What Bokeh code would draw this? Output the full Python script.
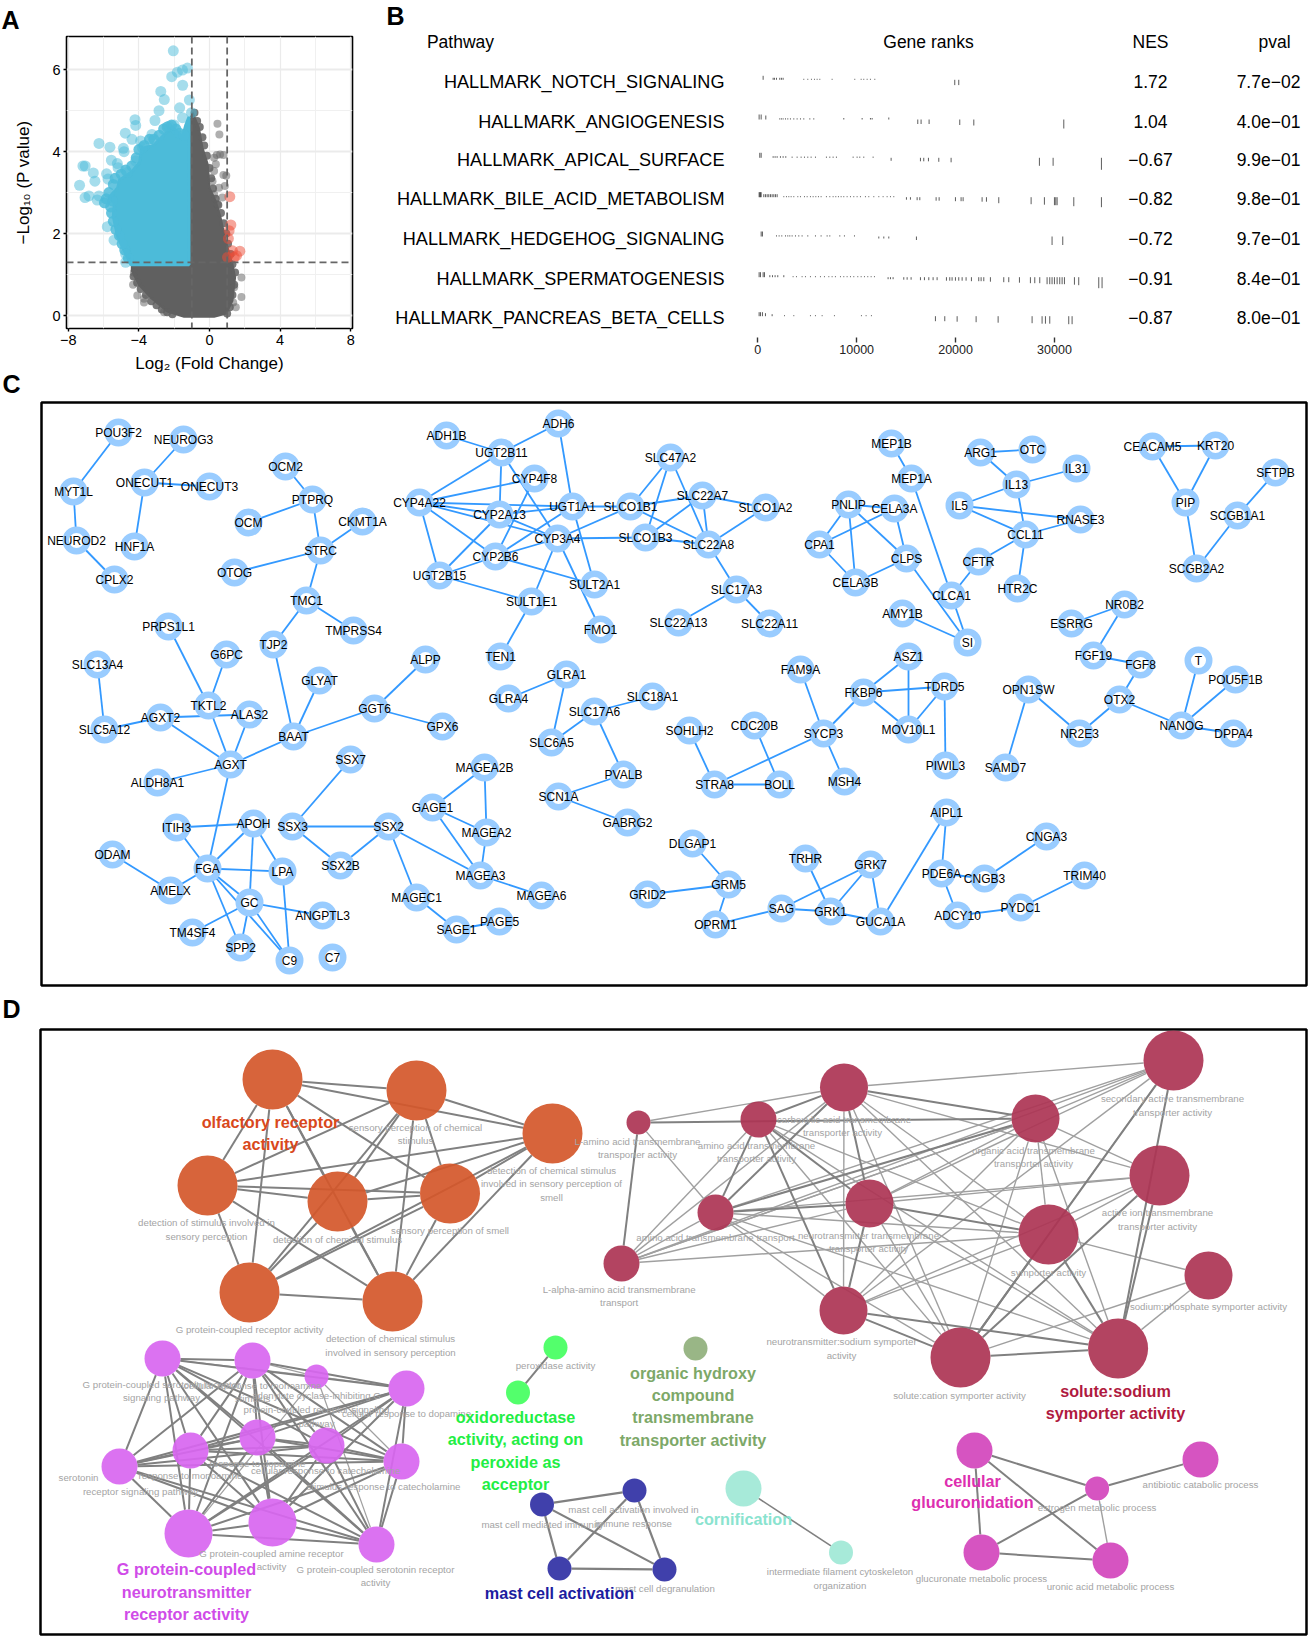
from math import hypot
from bokeh.plotting import figure
from bokeh.layouts import column, row
from bokeh.models import (Range1d, LinearAxis, FixedTicker, Label, Span, Title, BasicTickFormatter)
from bokeh.core.properties import value
from bokeh.embed import file_html
from bokeh.resources import INLINE

FONT = "Liberation Sans"

# ---------------- Panel A: volcano ----------------
blue_x = [-2.05,-1.25,-1.53,-1.82,-2.14,-1.52,-2.76,-2.56,-1.14,-2.86,-1.69,-1.02,-3.09,-4.22,-4.18,-1.53,-4.77,-4.39,-3.26,-3.90,
          -6.26,-5.64,-4.88,-4.84,-5.56,-5.22,-5.18,-7.04,-7.17,-6.58,-6.49,-7.36,-5.83,-5.75,-7.05,-6.83,-6.26,-6.36,-5.79,-5.41,
          -4.75,-4.75,-2.29,-2.0,-4.65,-4.18,-3.80]
blue_y = [6.46,6.04,5.99,5.94,5.83,5.62,5.47,5.27,5.26,5.00,5.07,4.95,4.76,4.78,4.64,4.83,4.45,4.30,4.42,4.26,
          4.20,4.11,4.08,4.00,3.79,3.71,3.61,3.65,3.65,3.48,3.28,3.18,3.46,3.33,2.88,2.92,2.92,2.82,2.17,1.84,
          1.50,1.30,4.62,4.65,3.49,3.77,4.10]
blue_edge_x = [-4.6,-4.8,-4.95,-5.1,-5.3,-5.45,-5.55,-5.6,-5.5,-5.85,-5.95,-5.7,-5.45,-5.35,-5.0,-4.75,-4.4,-4.15,-4.0,-3.7,-3.4,-3.15,-2.85,-2.6,-2.4,-2.15,-1.9,-1.7,-1.45]
blue_edge_y = [1.4,1.6,1.75,1.95,2.1,2.3,2.5,2.65,2.8,2.85,2.75,3.0,3.2,3.35,3.45,3.55,3.65,3.85,4.05,4.15,4.3,4.3,4.4,4.55,4.6,4.65,4.55,4.45,4.4]
blue_mass_x = [-1.16,-4.45,-4.85,-5.2,-5.45,-5.4,-5.7,-5.2,-5.1,-4.4,-3.95,-3.85,-3.15,-2.5,-2.10,-1.53,-1.35,-1.16]
blue_mass_y = [1.24,1.24,1.60,1.92,2.41,2.74,2.88,3.12,3.31,3.51,3.75,4.08,4.16,4.44,4.60,4.36,4.64,4.85]
grey_x = [0.45,0.56,0.41,0.60,0.79,0.26,0.36,0.26,0.79,0.95,0.17,0.54,0.87,0.26,0.73,0.45,-4.28,-4.33,-4.09,-3.71,-3.71,1.81,1.81,1.49,1.34,1.40,-2.57]
grey_y = [4.68,4.42,3.92,3.93,3.92,3.85,3.69,3.53,3.43,3.41,3.28,3.12,3.16,2.96,2.88,2.72,1.05,0.75,0.49,0.41,0.32,0.93,0.45,0.20,0.32,0.69,0.08]
grey_edge_x = [-4.3,-4.1,-3.9,-3.6,-3.3,-3.0,-2.7,-2.4,-2.1,1.0,1.15,1.3,1.4,1.45,1.3,1.2,1.05,0.95,0.8,0.65,0.5,0.35,0.2,0.1,0.0,-0.15,-0.3,-0.4,-0.55,-0.7,-0.85]
grey_edge_y = [0.95,0.8,0.65,0.5,0.35,0.25,0.15,0.08,0.03,0.05,0.2,0.5,0.75,1.05,1.25,1.5,1.75,2.0,2.25,2.5,2.7,2.85,3.1,3.35,3.6,3.9,4.15,4.35,4.6,4.75,4.95]
grey_mass_x = [-4.4,-4.0,-3.3,-2.39,-1.44,0.26,0.95,1.30,1.45,1.30,0.92,0.63,0.35,0.0,-0.1,-0.4,-0.6,-0.95,-1.16,-1.16,-4.4]
grey_mass_y = [1.09,0.75,0.42,0.10,-0.03,-0.03,0.05,0.36,0.93,1.26,1.82,2.39,2.80,3.12,3.69,4.10,4.58,4.95,4.74,1.22,1.22]
red_x = [1.15,1.21,1.11,1.07,1.72,1.30,1.02,1.40,1.53]
red_y = [2.90,2.21,2.07,1.88,1.57,1.58,1.42,1.42,1.46]

# ---------------- Panel B: gene ranks table ----------------
pathways = ["HALLMARK_NOTCH_SIGNALING","HALLMARK_ANGIOGENESIS","HALLMARK_APICAL_SURFACE","HALLMARK_BILE_ACID_METABOLISM",
            "HALLMARK_HEDGEHOG_SIGNALING","HALLMARK_SPERMATOGENESIS","HALLMARK_PANCREAS_BETA_CELLS"]
nes = ["1.72","1.04","\u22120.67","\u22120.82","\u22120.72","\u22120.91","\u22120.87"]
pval = ["7.7e\u221202","4.0e\u221201","9.9e\u221201","9.8e\u221201","9.7e\u221201","8.4e\u221201","8.0e\u221201"]
row_text_y = [81,121,159,198,238,278,317]
row_base_y = [79.3,119,157.3,196.7,236,276.7,315.7]
row1 = [([540],4),([1550,1685,1890,2220,2390,2560],2),([4650,5055,5425,5730,6000,6270,7515,9805,10450,10715,11055,11390,11830],1),([19915,20320],-5.3)]
row2 = [([135,340],5),([810],4),([2220,2390,2560,2800,3030,3300,3640,3975,4315,4650,5260,5660],1.2),([8695,10550,11390,11560],1.5),([13245],2),
        ([16175,16510,17320],-4.5),([20420],-5.5),([21840],-6),([30940],-9)]
row3 = [([200,340],5),([1550,1750,1955,2290,2560,2830],1.6),([3470,3975,4380,4720,5055,5390,5830,6940,7280,7615,7950,9640,10040,10310,10715,11660],1.2),
        ([13480],-3),([16445,16780,17255],-3.5),([18300],-4),([19545],-4.5),([28475,29860],-8),([34745],-12)]
row4 = [([135,200,270,340],5),([605,775,945,1110,1280,1450,1620,1785,1955],3),
        ([2630,2900,3135,3370,3640,4045,4315,4720,4990,5325,5595,5865,6135,6400,6940,7280,7615,7885,8155,8425,8695,9030,9370,9705,10040,10380,10885,11220,11730,12235,12670,13075,13415,13750],1),
        ([15030,15435],-2.5),([16110,16380],-3),([18030,18335],-3.5),([19985,20555,20760],-4),([22680,23120],-4.5),([24365],-6),([27635],-7),([28980],-7.5),
        ([29995,30130,30265],-8),([31950],-9),([34745],-10)]
row5 = [([340,470],5),([1890,2155,2425,2800,3030,3235,3470,3810,4145,4480,5055,5830,6400,7010,7280,8290,8760,9775],1.2),([12235,12740,13245],-2),([16040],-3.5),([29755,30835],-8.5)]
row6 = [([135,270,540,675],5),([1215,1485,1750,2020,2630],2),
        ([3570,3910,4480,4820,5325,5830,6335,6740,7180,7515,7850,8360,8695,9030,9370,9705,10110,10450,10785,11120,11460,11795],1),
        ([13175,13415,13680],-2),([14760,15100,15500],-2.5),([16445,16850,17290,17725,18130],-3),([19075,19410,19645,19985,20320,20660,21060],-3.5),
        ([21600,22340,22580,22850],-4),([23520],-4.5),([24870,25375],-5),([26455],-5.5),([27565,28005,28510],-6),
        ([29250,29520,29755,29995,30265,30530,30770,31005],-7),([32015],-7.5),([32450],-8),([34475,34810],-11)]
row7 = [([135,270,470],4),([775],3),([1450],2),([2700,3640,5325,5830,6505,7750,10480,10950,11490],1),
        ([17960,18905],-5),([20155],-5.5),([22075],-6),([24300],-6.5),([27735],-7),([28745,29085,29520],-7.5),([31440,31780],-8)]
rows = [row1,row2,row3,row4,row5,row6,row7]
rank_ticks = [0,10000,20000,30000]

# ---------------- Panel C: gene network ----------------
genes = ["POU3F2","NEUROG3","MYT1L","ONECUT1","ONECUT3","NEUROD2","HNF1A","CPLX2","OCM2","PTPRQ","OCM","CKMT1A","STRC","OTOG","TMC1","TMPRSS4","TJP2","PRPS1L1","G6PC","SLC13A4",
 "ALPP","TEN1","ADH1B","ADH6","UGT2B11","CYP4F8","CYP4A22","CYP2A13","UGT1A1","SLCO1B1","CYP3A4","SLCO1B3","CYP2B6","UGT2B15","SULT2A1","SULT1E1","FMO1",
 "SLC47A2","SLC22A7","SLCO1A2","SLC22A8","SLC17A3","SLC22A13","SLC22A11","MEP1B","MEP1A","PNLIP","CELA3A","CPA1","CLPS","CELA3B","ARG1","OTC","IL13","IL31","IL5","RNASE3","CCL11","CFTR","HTR2C","CLCA1","AMY1B","SI",
 "CEACAM5","KRT20","PIP","SCGB1A1","SCGB2A2","SFTPB","NR0B2","ESRRG","FGF19","FGF8","T","ASZ1",
 "SLC5A12","AGXT2","TKTL2","ALAS2","GLYAT","GGT6","GPX6","BAAT","AGXT","ALDH8A1","SSX7","MAGEA2B","GAGE1","MAGEA2","MAGEA3","MAGEA6","SSX2","SSX3","SSX2B","APOH","ITIH3","FGA","LPA","ODAM","AMELX","GC","ANGPTL3","TM4SF4","SPP2","MAGEC1","SAGE1","PAGE5",
 "GLRA1","GLRA4","SLC17A6","SLC6A5","PVALB","SCN1A","GABRG2","C9","C7",
 "SLC18A1","SOHLH2","CDC20B","FAM9A","SYCP3","FKBP6","TDRD5","MOV10L1","MSH4","PIWIL3","OPN1SW","SAMD7","NR2E3","OTX2","NANOG","DPPA4","POU5F1B","STRA8","BOLL","AIPL1","CNGA3","TRIM40","PDE6A","CNGB3","ADCY10","PYDC1","GRK7","TRHR","SAG","GRK1","GUCA1A","OPRM1","GRM5","GRID2","DLGAP1"]
gene_x = [118,183,73,144,209,76,134,114,285,312,248,362,320,234,306,353,273,168,226,97,
 425,500,446,558,501,534,419,499,572,630,557,645,495,439,594,531,600,
 670,702,765,708,736,678,769,891,911,848,894,819,906,855,980,1032,1016,1076,959,1080,1025,978,1017,951,902,967,
 1152,1215,1185,1237,1196,1275,1124,1071,1093,1140,1198,908,
 104,160,208,249,319,374,442,293,230,157,350,484,432,486,480,541,388,292,340,253,176,207,282,112,170,249,322,192,240,416,456,499,
 566,508,594,551,623,558,627,289,332,
 652,689,754,800,823,863,944,908,844,945,1028,1005,1079,1119,1181,1233,1235,714,779,946,1046,1084,941,984,957,1020,870,805,781,830,880,715,728,647,692]
gene_y = [432,439,491,482,486,540,546,579,466,499,522,521,550,572,600,630,644,626,654,664,
 659,656,435,423,452,478,502,514,506,506,538,537,556,575,584,601,629,
 457,495,507,544,589,622,623,443,478,504,508,544,558,582,452,449,484,468,505,519,534,561,588,595,613,642,
 446,445,502,515,568,472,604,623,655,664,660,656,
 729,717,705,714,680,708,726,736,764,782,759,767,807,832,875,895,826,826,865,823,827,868,871,854,890,902,915,932,947,897,929,921,
 674,698,711,742,774,796,822,960,957,
 696,730,725,669,733,692,686,729,781,765,689,767,733,699,725,733,679,784,784,812,836,875,873,878,915,907,864,858,908,911,921,924,884,894,843]
gene_edges = [("POU3F2","MYT1L"),("MYT1L","NEUROD2"),("NEUROD2","CPLX2"),("NEUROG3","ONECUT1"),("ONECUT1","ONECUT3"),("ONECUT1","HNF1A"),
 ("OCM2","PTPRQ"),("OCM","PTPRQ"),("PTPRQ","STRC"),("CKMT1A","STRC"),("OTOG","STRC"),("STRC","TMC1"),("TMC1","TMPRSS4"),("TMC1","TJP2"),("TJP2","BAAT"),
 ("PRPS1L1","TKTL2"),("G6PC","TKTL2"),("SLC13A4","SLC5A12"),("SLC5A12","AGXT2"),("AGXT2","ALAS2"),("AGXT2","AGXT"),("TKTL2","AGXT"),("ALAS2","AGXT"),("ALDH8A1","AGXT"),("AGXT","BAAT"),("AGXT","FGA"),("BAAT","GLYAT"),("BAAT","GGT6"),("GGT6","ALPP"),("GGT6","GPX6"),
 ("ITIH3","APOH"),("ITIH3","FGA"),("APOH","FGA"),("APOH","LPA"),("APOH","GC"),("FGA","LPA"),("FGA","AMELX"),("FGA","GC"),("FGA","SPP2"),("FGA","C9"),("ODAM","AMELX"),("GC","ANGPTL3"),("GC","TM4SF4"),("GC","SPP2"),("GC","C9"),("LPA","C9"),
 ("SSX7","SSX3"),("SSX3","SSX2"),("SSX3","SSX2B"),("SSX2","SSX2B"),("SSX2","MAGEA3"),("SSX2","MAGEC1"),("MAGEC1","SAGE1"),("SAGE1","PAGE5"),("GAGE1","MAGEA2B"),("GAGE1","MAGEA2"),("GAGE1","MAGEA3"),("MAGEA2B","MAGEA2"),("MAGEA2","MAGEA3"),("MAGEA3","MAGEA6"),
 ("ADH1B","UGT2B11"),("ADH6","UGT2B11"),("ADH6","UGT1A1"),("UGT2B11","CYP4A22"),("UGT2B11","CYP2A13"),("UGT2B11","CYP3A4"),("CYP4F8","CYP4A22"),("CYP4F8","CYP2B6"),("CYP4A22","UGT1A1"),("CYP4A22","CYP2A13"),("CYP4A22","CYP3A4"),("CYP4A22","CYP2B6"),("CYP4A22","UGT2B15"),("CYP2A13","UGT1A1"),("CYP2A13","CYP3A4"),("CYP2A13","UGT2B15"),("UGT1A1","SLCO1B1"),("UGT1A1","CYP2B6"),("UGT1A1","SULT2A1"),("CYP3A4","SLCO1B1"),("CYP3A4","SLCO1B3"),("CYP3A4","CYP2B6"),("CYP3A4","SULT1E1"),("CYP3A4","FMO1"),("CYP2B6","UGT2B15"),("CYP2B6","SULT2A1"),("UGT2B15","SULT1E1"),("SULT1E1","TEN1"),
 ("SLCO1B1","SLC47A2"),("SLCO1B3","SLC47A2"),("SLC47A2","SLC22A8"),("SLCO1B1","SLC22A7"),("SLCO1B3","SLC22A7"),("SLC22A7","SLCO1A2"),("SLC22A7","SLC22A8"),("SLCO1A2","SLC22A8"),("SLCO1B3","SLC22A8"),("SLCO1B1","SLC22A8"),("SLC22A8","SLC17A3"),("SLC17A3","SLC22A13"),("SLC17A3","SLC22A11"),
 ("MEP1B","MEP1A"),("MEP1A","CLCA1"),("PNLIP","CELA3A"),("PNLIP","CPA1"),("PNLIP","CELA3B"),("PNLIP","CLPS"),("CELA3A","CPA1"),("CELA3A","CLPS"),("CPA1","CELA3B"),("CELA3B","CLPS"),("CLPS","SI"),("CLCA1","SI"),("AMY1B","SI"),("CLCA1","CFTR"),("CFTR","CCL11"),("ARG1","OTC"),("ARG1","IL13"),("IL13","IL31"),("IL13","IL5"),("IL13","CCL11"),("IL5","RNASE3"),("IL5","CCL11"),("CCL11","RNASE3"),("CCL11","HTR2C"),
 ("CEACAM5","KRT20"),("CEACAM5","PIP"),("KRT20","PIP"),("PIP","SCGB2A2"),("SCGB2A2","SCGB1A1"),("SCGB1A1","SFTPB"),
 ("ESRRG","NR0B2"),("NR0B2","FGF19"),("FGF19","FGF8"),("FGF8","OTX2"),("OTX2","NR2E3"),("OPN1SW","NR2E3"),("OPN1SW","SAMD7"),("OTX2","NANOG"),("T","NANOG"),("POU5F1B","NANOG"),("NANOG","DPPA4"),
 ("GLRA1","GLRA4"),("GLRA1","SLC6A5"),("SLC6A5","SLC17A6"),("SLC17A6","SLC18A1"),("SLC17A6","PVALB"),("PVALB","SCN1A"),("SCN1A","GABRG2"),
 ("SOHLH2","STRA8"),("CDC20B","BOLL"),("STRA8","BOLL"),("STRA8","SYCP3"),("FAM9A","SYCP3"),("SYCP3","FKBP6"),("SYCP3","MSH4"),("FKBP6","ASZ1"),("FKBP6","TDRD5"),("FKBP6","MOV10L1"),("ASZ1","MOV10L1"),("TDRD5","MOV10L1"),("TDRD5","PIWIL3"),
 ("DLGAP1","GRM5"),("GRID2","GRM5"),("GRM5","OPRM1"),("OPRM1","SAG"),("SAG","GRK1"),("SAG","GRK7"),("TRHR","GRK1"),("GRK7","GRK1"),("GRK7","GUCA1A"),("GRK1","GUCA1A"),("GUCA1A","AIPL1"),("AIPL1","PDE6A"),("PDE6A","CNGB3"),("CNGB3","CNGA3"),("PDE6A","ADCY10"),("ADCY10","PYDC1"),("PYDC1","TRIM40")]

# ---------------- Panel D: enrichment network ----------------
orange_x = [272,416,552,207,337,449.5,249,392]
orange_y = [1079,1090,1133,1185,1201,1193,1292,1301]
orange_r = [30,30,30,30,30,30,30,30]
orange_edges = [(1,2),(1,3),(1,4),(1,5),(1,6),(1,7),(1,8),(2,3),(2,4),(2,5),(2,6),(2,7),(2,8),(3,4),(3,5),(3,6),(3,7),(3,8),(4,5),(4,6),(4,7),(4,8),(5,6),(5,7),(5,8),(6,7),(6,8),(7,8)]

red_nx = [638,758,843.5,1035,1173,1159,715,869,1048,621,1208,843,960,1117.6]
red_ny = [1122,1119,1087,1118,1060,1175,1212,1203,1234,1263,1275,1310,1357,1348]
red_r = [12,18,24,24,30,30,18,24,30,18,24,24,30,30]
red_thick = [(1,4),(1,10),(2,3),(2,7),(2,12),(3,4),(3,7),(3,8),(4,7),(5,13),(5,14),(6,14),(8,12),(8,9),(9,13),(9,14),(12,13),(12,14),(13,14),(7,8),(6,13),(2,8)]
red_thin = [(1,3),(1,7),(2,10),(2,9),(2,14),(2,13),(3,5),(3,6),(3,9),(3,10),(3,12),(3,13),(3,14),(4,5),(4,6),(4,8),(4,9),(4,10),(4,12),(4,13),(4,14),
            (5,7),(5,8),(5,9),(5,12),(6,7),(6,8),(6,9),(6,12),(7,9),(7,10),(7,12),(7,13),(7,14),(8,10),(8,13),(8,14),(9,10),(9,11),(9,12),(10,5),(10,4),(11,13),(11,14)]

purple_x = [162,252,316,406,119,190,257,326,401,188,272,376]
purple_y = [1358,1360,1376,1388,1466,1450,1437,1445,1461,1533,1522,1544]
purple_r = [18,18,12,18,18,18,18,18,18,24,24,18]
purple_thick = [(1,2),(1,4),(1,5),(1,6),(1,7),(1,8),(1,9),(1,10),(1,11),(1,12),(2,4),(2,5),(2,6),(2,7),(2,8),(2,9),(2,10),(2,11),(2,12),
                (4,5),(4,6),(4,7),(4,8),(4,9),(4,10),(4,11),(4,12),(5,6),(5,7),(5,8),(5,9),(5,10),(5,11),(5,12),(6,7),(6,8),(6,9),(6,10),(6,11),(6,12),
                (7,8),(7,9),(7,10),(7,11),(7,12),(8,9),(8,10),(8,11),(8,12),(9,10),(9,11),(9,12),(10,11),(10,12),(11,12)]
purple_thin = [(1,3),(2,3),(3,4),(3,9),(3,10),(3,12)]

green_x, green_y, green_r = [555,517.5],[1347,1392],[12,12]
olive_x, olive_y, olive_r = [695],[1348],[12]
navy_x, navy_y, navy_r = [541.5,634,559,664],[1504,1490,1568,1569],[12,12,12,12]
navy_edges = [(1,2),(1,3),(1,4),(2,3),(2,4),(3,4)]
teal_x, teal_y, teal_r = [743,840.5],[1488,1552],[18,12]
mag_x, mag_y, mag_r = [974,1096.6,1200,981,1110],[1450,1488,1459,1552,1560],[18,12,18,18,18]
mag_edges = [(1,2),(1,4),(1,5),(2,3),(2,4),(4,5)]
mag_thin = [(2,5)]

term_text = ["sensory perception of chemical","stimulus","detection of chemical stimulus","involved in sensory perception of","smell","detection of stimulus involved in","sensory perception",
 "detection of chemical stimulus","sensory perception of smell","G protein-coupled receptor activity","detection of chemical stimulus","involved in sensory perception",
 "L-amino acid transmembrane","transporter activity","amino acid transmembrane","transporter activity","carboxylic acid transmembrane","transporter activity","organic acid transmembrane","transporter activity",
 "secondary active transmembrane","transporter activity","active ion transmembrane","transporter activity","amino acid transmembrane transport","neurotransmitter transmembrane","transporter activity","symporter activity",
 "L-alpha-amino acid transmembrane","transport","sodium:phosphate symporter activity","neurotransmitter:sodium symporter","activity","solute:cation symporter activity",
 "peroxidase activity","mast cell activation involved in","immune response","mast cell mediated immunity","mast cell degranulation","intermediate filament cytoskeleton","organization",
 "estrogen metabolic process","antibiotic catabolic process","glucuronate metabolic process","uronic acid metabolic process",
 "G protein-coupled serotonin receptor","signaling pathway","cellular response to monoamine","stimulus","adenylate cyclase-inhibiting G","protein-coupled receptor signaling","pathway","cellular response to dopamine",
 "serotonin","receptor signaling pathway","response to monoamine","response to dopamine","cellular response to catecholamine","stimulus response to catecholamine","G protein-coupled amine receptor","activity","G protein-coupled serotonin receptor","activity"]
term_x = [415,415,551,551,551,206,206,337,449.5,249,390,390,
 637,637,756,756,843.5,842,1033,1033,1172,1172,1157,1157,715,868,868,1048,618.6,618.6,1208,841,841,959,
 555,633,633,542,664.5,839.5,839.5,1096.6,1200,981,1110,
 161,161,252,252,316,316,316,406,78,140,190,257,325,383,271,271,375,375]
term_y = [1127,1140,1170,1183,1197,1222,1236,1239,1230,1329,1338,1352,
 1141,1154,1145,1158,1119,1132,1150,1163,1098,1112,1212,1226,1237,1235,1248,1272,1289,1302,1306,1341,1355,1395,
 1365,1509,1523,1524,1588,1571,1585,1507,1484,1578,1586,
 1384,1397,1385,1398,1395,1409,1423,1413,1477,1491,1475,1463,1470,1486,1553,1566,1569,1582]

group_labels = [
 (["olfactory receptor","activity"],[270,270],[1121,1143],"#D9481C"),
 (["solute:sodium","symporter activity"],[1115,1115],[1390,1412],"#B01A40"),
 (["oxidoreductase","activity, acting on","peroxide as","acceptor"],[515,515,515,515],[1416,1438,1461,1483],"#22EE44"),
 (["organic hydroxy","compound","transmembrane","transporter activity"],[692.5,692.5,692.5,692.5],[1372,1394,1416,1439],"#7DA868"),
 (["mast cell activation"],[559],[1592],"#1C1CA0"),
 (["cornification"],[743],[1518],"#8AE3CF"),
 (["cellular","glucuronidation"],[972,972],[1480,1501],"#DD2FB0"),
 (["G protein-coupled","neurotransmitter","receptor activity"],[186,186,186],[1568,1591,1613],"#D04CE8"),
]

def base_fig(**kw):
    return figure(output_backend="svg", toolbar_location=None, **kw)

def txt(p, xs, ys, ts, size, color, align="center", style="normal", **kw):
    p.text(x=xs, y=ys, text=ts, text_font=value(FONT), text_font_size=value(size), text_color=color,
           text_align=align, text_baseline="middle", text_font_style=style, **kw)

def letter(p, s, x, y):
    txt(p, [x], [y], [s], "25px", "black", align="left", style="bold")

# Panel A
a = base_fig(width=385, height=376, x_range=Range1d(-8.1, 8.1), y_range=Range1d(-0.316, 6.81),
             min_border_left=66, min_border_right=33, min_border_top=35, min_border_bottom=48)
a.title = Title(text="A", text_font=FONT, text_font_size="25px", text_font_style="bold", text_color="black",
                align="left", offset=-65, standoff=6)
a.outline_line_color = "black"; a.outline_line_width = 1.6; a.outline_line_alpha = 1
a.xaxis.ticker = FixedTicker(ticks=[-8,-4,0,4,8], minor_ticks=[-6,-2,2,6])
a.yaxis.ticker = FixedTicker(ticks=[0,2,4,6], minor_ticks=[1,3,5])
for g in (a.xgrid[0], a.ygrid[0]):
    g.grid_line_color = "#EBEBEB"; g.minor_grid_line_color = "#F0F0F0"; g.minor_grid_line_width = 1
a.ygrid[0].grid_line_width = 2.2; a.xgrid[0].grid_line_width = 1.2
for ax in (a.xaxis[0], a.yaxis[0]):
    ax.axis_line_color = None; ax.minor_tick_line_color = None; ax.major_tick_in = 0; ax.major_tick_out = 3
    ax.major_tick_line_color = "black"; ax.major_tick_line_width = 1.4; ax.major_label_standoff = 2
    ax.major_label_text_font = FONT; ax.major_label_text_font_size = "14.5px"; ax.major_label_text_color = "black"
    ax.axis_label_text_font = FONT; ax.axis_label_text_font_size = "17px"; ax.axis_label_text_font_style = "normal"
    ax.axis_label_text_color = "black"
a.xaxis[0].axis_label = "Log\u2082 (Fold Change)"; a.xaxis[0].axis_label_standoff = 6
a.yaxis[0].axis_label = "\u2212Log\u2081\u2080 (P value)"; a.yaxis[0].axis_label_standoff = 16
a.yaxis[0].major_label_orientation = "horizontal"
a.patch(grey_mass_x, grey_mass_y, fill_color="#606060", line_color="#606060", line_width=2)
a.scatter(grey_edge_x, grey_edge_y, size=8, fill_color="#606060", fill_alpha=0.85, line_color=None)
a.scatter(grey_x, grey_y, size=8, fill_color="#606060", fill_alpha=0.5, line_color=None)
a.patch(blue_mass_x, blue_mass_y, fill_color="#4CBBD9", line_color="#4CBBD9", line_width=3)
a.scatter(blue_edge_x, blue_edge_y, size=11, fill_color="#4CBBD9", fill_alpha=0.85, line_color=None)
a.scatter(blue_x, blue_y, size=11, fill_color="#4CBBD9", fill_alpha=0.5, line_color=None)
a.scatter(red_x, red_y, size=11, fill_color="#EE4B36", fill_alpha=0.5, line_color=None)
for loc, dim in ((-1,"height"),(1,"height"),(1.3,"width")):
    a.add_layout(Span(location=loc, dimension=dim, line_color="#666666", line_width=1.8, line_dash="7 4"))

# Panel B
b = base_fig(width=927, height=376, x_range=Range1d(385, 1312), y_range=Range1d(337, 0),
             x_axis_location=None, y_axis_location=None,
             min_border_left=0, min_border_right=0, min_border_top=0, min_border_bottom=39)
b.outline_line_color = None; b.grid.visible = False
b.extra_x_ranges = {"rank": Range1d((385-757.3)/0.00989, (1312-757.3)/0.00989)}
rax = LinearAxis(x_range_name="rank", ticker=FixedTicker(ticks=rank_ticks), formatter=BasicTickFormatter(use_scientific=False))
rax.axis_line_color = None; rax.minor_tick_line_color = None; rax.major_tick_in = 0; rax.major_tick_out = 5
rax.major_tick_line_color = "#333333"; rax.major_tick_line_width = 1.4
rax.major_label_text_font = FONT; rax.major_label_text_font_size = "12.5px"; rax.major_label_text_color = "#222222"
rax.major_label_standoff = 2
b.add_layout(rax, "below")
for base, rw in zip(row_base_y, rows):
    xs, y0, y1 = [], [], []
    for ranks, stat in rw:
        for r in ranks:
            xs.append(r); y0.append(base); y1.append(base - stat)
    b.segment(x0=xs, y0=y0, x1=xs, y1=y1, x_range_name="rank", line_color="#333333", line_width=0.8)
txt(b, [460,928,1150,1274], [41,41,41,41], ["Pathway","Gene ranks","NES","pval"], "17.5px", "black")
txt(b, [724]*7, row_text_y, pathways, "18.1px", "black", align="right")
txt(b, [1150]*7, row_text_y, nes, "17.5px", "black")
txt(b, [1268]*7, row_text_y, pval, "17.5px", "black")
letter(b, "B", 386, 15)

# Panel C (transparent, overlaps the row above a little so that the letters C and D fit)
c = base_fig(width=1312, height=662, x_range=Range1d(0, 1312), y_range=Range1d(1030, 368),
             x_axis_location=None, y_axis_location=None, min_border=0, margin=(-8, 0, 0, 0),
             background_fill_color=None, border_fill_color=None)
c.outline_line_color = None; c.grid.visible = False
c.quad(left=[41], right=[1306], top=[402], bottom=[985], fill_color=None, line_color="black", line_width=2.5)
pos = {g: (x, y) for g, x, y in zip(genes, gene_x, gene_y)}
c.segment(x0=[pos[s][0] for s, t in gene_edges], y0=[pos[s][1] for s, t in gene_edges],
          x1=[pos[t][0] for s, t in gene_edges], y1=[pos[t][1] for s, t in gene_edges],
          line_color="#3399FF", line_width=1.8)
c.scatter(gene_x, gene_y, size=21.5, fill_color="white", line_color="#99CCFF", line_width=6.5)
txt(c, gene_x, gene_y, genes, "12px", "black")
letter(c, "C", 2, 383)
letter(c, "D", 2, 1008)

# Panel D
d = base_fig(width=1312, height=620, x_range=Range1d(0, 1312), y_range=Range1d(1640, 1020),
             x_axis_location=None, y_axis_location=None, min_border=0, margin=(-10, 0, 0, 0),
             background_fill_color=None, border_fill_color=None)
d.outline_line_color = None; d.grid.visible = False
d.quad(left=[40], right=[1306], top=[1029], bottom=[1634], fill_color=None, line_color="black", line_width=2.5)

def edges(xs, ys, rs, pairs, width, color):
    x0, y0, x1, y1 = [], [], [], []
    for i, j in pairs:
        ax, ay, bx, by = xs[i-1], ys[i-1], xs[j-1], ys[j-1]
        L = hypot(bx-ax, by-ay)
        ux, uy = (bx-ax)/L, (by-ay)/L
        x0.append(ax + ux*rs[i-1]); y0.append(ay + uy*rs[i-1])
        x1.append(bx - ux*rs[j-1]); y1.append(by - uy*rs[j-1])
    d.segment(x0=x0, y0=y0, x1=x1, y1=y1, line_color=color, line_width=width)

THICK, THIN = "#808080", "#A0A0A0"
edges(orange_x, orange_y, orange_r, orange_edges, 2.0, THICK)
edges(red_nx, red_ny, red_r, red_thin, 1.4, THIN)
edges(red_nx, red_ny, red_r, red_thick, 2.0, THICK)
edges(purple_x, purple_y, purple_r, purple_thin, 1.2, THIN)
edges(purple_x, purple_y, purple_r, purple_thick, 2.0, THICK)
edges(green_x, green_y, green_r, [(1,2)], 2.0, THICK)
edges(navy_x, navy_y, navy_r, navy_edges, 2.2, THICK)
edges(teal_x, teal_y, teal_r, [(1,2)], 1.6, THICK)
edges(mag_x, mag_y, mag_r, mag_edges, 2.0, THICK)
edges(mag_x, mag_y, mag_r, mag_thin, 1.4, THIN)
for xs, ys, rs, col in ((orange_x,orange_y,orange_r,"#D4572A"),(red_nx,red_ny,red_r,"#AC3454"),(purple_x,purple_y,purple_r,"#D866F0"),
                        (green_x,green_y,green_r,"#44FF5F"),(olive_x,olive_y,olive_r,"#90B07C"),(navy_x,navy_y,navy_r,"#3030A4"),
                        (teal_x,teal_y,teal_r,"#A0E8D6"),(mag_x,mag_y,mag_r,"#D245BC")):
    d.circle(xs, ys, radius=rs, fill_color=col, fill_alpha=0.92, line_color=None)
txt(d, term_x, term_y, term_text, "9.7px", "#A4A4A4")
for ts, xs, ys, col in group_labels:
    txt(d, xs, ys, ts, "16.2px", col, style="bold")

page = column(row(column(a), column(b), spacing=0), c, d, spacing=0)
open("out.html", "w").write(file_html(page, INLINE))
